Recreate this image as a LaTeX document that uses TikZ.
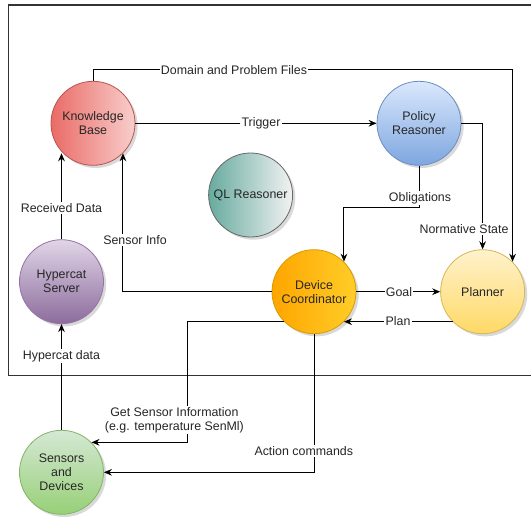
\documentclass[tikz,border=0pt]{standalone}
\usepackage{fontspec}
\setmainfont{Liberation Sans}
\usetikzlibrary{arrows.meta,shadows}

%% colori dei cerchi (riempimento chiaro / scuro, bordo)
\definecolor{kbA}{HTML}{EA6B66}\definecolor{kbB}{HTML}{F8CECC}\definecolor{kbD}{HTML}{B85450}
\definecolor{prA}{HTML}{DAE8FC}\definecolor{prB}{HTML}{7EA6E0}\definecolor{prD}{HTML}{6C8EBF}
\definecolor{qlA}{HTML}{67AB9F}\definecolor{qlB}{HTML}{F2F2F2}\definecolor{qlD}{HTML}{666666}
\definecolor{hsA}{HTML}{E1D5E7}\definecolor{hsB}{HTML}{8C6C9C}\definecolor{hsD}{HTML}{9673A6}
\definecolor{dcA}{HTML}{FFA500}\definecolor{dcB}{HTML}{FFCD28}\definecolor{dcD}{HTML}{D79B00}
\definecolor{plA}{HTML}{FFF2CC}\definecolor{plB}{HTML}{FFD966}\definecolor{plD}{HTML}{D6B656}
\definecolor{sdA}{HTML}{D5E8D4}\definecolor{sdB}{HTML}{97D077}\definecolor{sdD}{HTML}{82B366}

\begin{document}
\begin{tikzpicture}[
		x=0.75pt, y=-0.75pt,
		>={Stealth[length=6pt,width=5pt]}, line width=0.75pt,
		testo/.style={font=\fontsize{9.3pt}{10.6pt}\selectfont, text=black!85},
		cerchio/.style={circle, minimum size=63pt, inner sep=0pt,
			align=center, line width=0.6pt, testo,
			drop shadow={shadow xshift=2pt, shadow yshift=-2pt,
				opacity=0.25, fill=black!60}},
		freccia/.style={->, black},
		linea/.style={black},
		etic/.style={testo, fill=white, inner sep=1pt, align=center},
		cornice/.style={line width=0.9pt, black!80}]
	
	\useasboundingbox (0,0) rectangle (531,518);
	
	%% --- riquadro del sistema (aperto a destra) ---
	\draw[cornice] (531,5) -- (8.5,5) -- (8.5,375.7) -- (531,375.7);
	
	%% --- componenti ---
	\node[cerchio, draw=kbD, left color=kbA, right color=kbB] (kb) at (93,123.3)    {Knowledge\\Base};
	\node[cerchio, draw=prD, top color=prA, bottom color=prB] (pr) at (419,123.3)   {Policy\\Reasoner};
	\node[cerchio, draw=qlD, left color=qlA, right color=qlB] (ql) at (250.6,195)   {QL Reasoner};
	\node[cerchio, draw=hsD, top color=hsA, bottom color=hsB] (hs) at (61.5,281.7)  {Hypercat\\Server};
	\node[cerchio, draw=dcD, left color=dcA, right color=dcB] (dc) at (314,291.7)   {Device\\Coordinator};
	\node[cerchio, draw=plD, top color=plA, bottom color=plB] (pl) at (482.6,291.7) {Planner};
	\node[cerchio, draw=sdD, top color=sdA, bottom color=sdB] (sd) at (61.5,472.3)  {Sensors\\and\\Devices};
	
	%% --- gomito della richiesta ai sensori ---
	\coordinate (gsx) at (187.3,400);
	
	%% --- collegamenti ---
	\draw[freccia] (kb.north) -- ++(0,-11) -| (pl.north east);
	\draw[freccia] (kb.east) -- (pr.west);
	\draw[freccia] (pr.east) -| (pl.north);
	\draw[freccia] (pr.south) -- ++(0,42.2) -| (dc.north east);
	\draw[freccia] (dc.west) -| (kb.south east);
	\draw[freccia] (hs.north) -- (hs.north |- kb.south west);
	\draw[freccia] (dc.east) -- (pl.west);
	\draw[freccia] (pl.south west) -- (dc.south east);
	\draw[freccia] (sd.north) -- (hs.south);
	\draw[freccia] (dc.south west) -| (gsx |- sd.north east) -- (sd.north east);
	\draw[freccia] (dc.south) |- (sd.east);
	
	%% --- etichette dei collegamenti ---
	\node[etic] (eDom)  at (234,70)    {Domain and Problem Files};
	\node[etic] (eTrig) at (261,123.3) {Trigger};
	\node[etic] (eObl)  at (420,198)   {Obligations};
	\node[etic] (eNorm) at (464,229)   {Normative State};
	\node[etic] (eRec)  at (61.5,208)  {Received Data};
	\node[etic] (eSens) at (135,240)   {Sensor Info};
	\node[etic] (eGoal) at (399,291.7) {Goal};
	\node[etic] (ePlan) at (398,321.4) {Plan};
	\node[etic] (eHyp)  at (61.5,356)  {Hypercat data};
	\node[etic] (eGet)  at (174.4,420) {Get Sensor Information\\(e.g. temperature SenMl)};
	\node[etic] (eAct)  at (303.8,451) {Action commands};
	
\end{tikzpicture}
\end{document}
